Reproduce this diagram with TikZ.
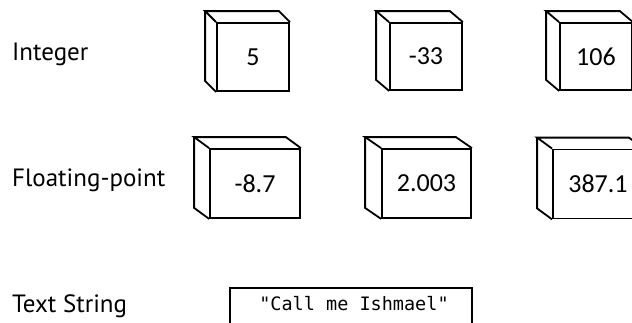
\documentclass[tikz,border=0pt]{standalone}
\usepackage{fontspec}
\usetikzlibrary{calc}
\setmainfont{PT Sans}
\newfontfamily\boxfont{Carlito}
\newfontfamily\monofont{DejaVu Sans Mono}
\begin{document}
\begin{tikzpicture}[x=1pt,y=-1pt,
  lbl/.style={anchor=base west,inner sep=0pt,font=\fontsize{25}{25}\selectfont},
  front/.style={draw,line width=1.8pt,inner sep=0pt,font=\boxfont\fontsize{26}{26}\selectfont},
  side/.style={line width=1.8pt,line join=miter},
  strbox/.style={draw,line width=1.8pt,inner sep=0pt,minimum width=242pt,minimum height=60pt,text depth=0pt}
]
\useasboundingbox (0,0) rectangle (632,322);

\node[lbl] (lint) at (12,60) {Integer};
\node[lbl] (lflt) at (12,186) {Floating-point};
\node[lbl] (lstr) at (12,312) {Text String};

% row 1
\node[front,minimum width=72pt,minimum height=68pt] (b1) at (253,57) {5};
\node[front,minimum width=72pt,minimum height=67pt] (b2) at (426,56.5) {-33};
\node[front,minimum width=72pt,minimum height=67pt] (b3) at (596,56.5) {106};
% row 2
\node[front,minimum width=90pt,minimum height=69pt] (b4) at (255,183.5) {-8.7};
\node[front,minimum width=89pt,minimum height=69pt] (b5) at (426.5,183.5) {2.003};
\node[front,minimum width=90pt,minimum height=69pt] (b6) at (598,184) {387.1};

\foreach \b/\dx in {b1/11,b2/13,b3/13,b4/15,b5/16,b6/15}{
  \draw[side] (\b.north east) -- ++(-\dx,-11) coordinate (\b-br)
    -- ($(\b.north west)+(-\dx,-11)$) coordinate (\b-bl)
    -- (\b.north west);
  \draw[side] (\b-bl) -- ($(\b.south west)+(-\dx,-11)$) -- (\b.south west);
}

% string box
\node[strbox,anchor=north] (sbox) at (351,287) {};
\node[inner sep=0pt,font=\monofont\fontsize{18.5}{18.5}\selectfont] (stxt) at (354,304) {"Call me Ishmael"};
\end{tikzpicture}
\end{document}
